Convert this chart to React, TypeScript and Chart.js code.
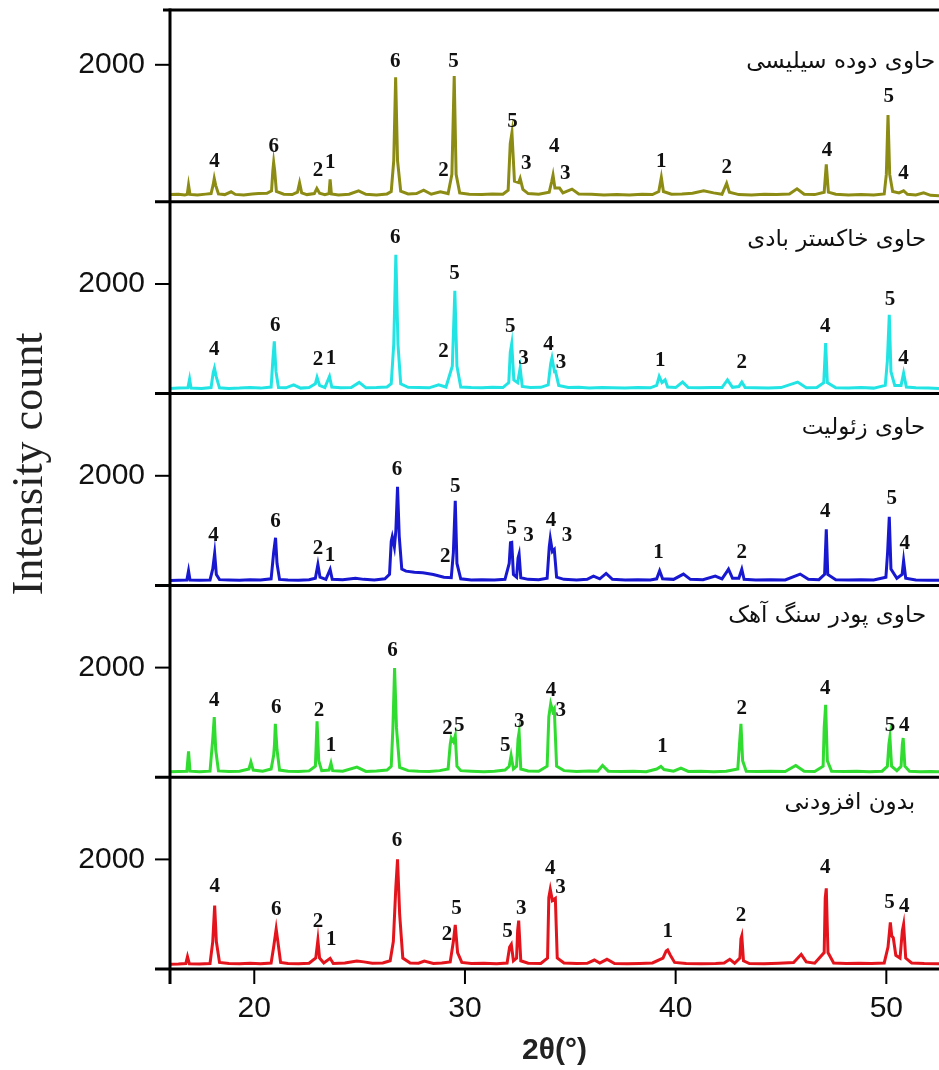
import React, { useEffect, useRef } from 'react';
import { Chart, registerables } from 'chart.js';

Chart.register(...registerables);

type Pt = [number, number];
type Lbl = [number, number, string];

// 2θ axis range and tick labels
const X_MIN = 16;
const X_MAX = 52.5;
const X_LABELED = [20, 30, 40, 50];

// ---------- series (2θ, counts) ----------
const noAdditive: Pt[] = [
  [16.0, 85], [16.4, 90], [16.75, 100], [16.83, 225], [16.92, 95], [17.4, 90], [17.9, 100], [18.03, 500], [18.12, 1156], [18.2, 500],
  [18.35, 120], [18.8, 100], [19.3, 95], [19.8, 105], [20.3, 95], [20.8, 110], [20.92, 400], [21.04, 730], [21.12, 500], [21.25, 120],
  [21.6, 100], [22.1, 95], [22.6, 105], [22.92, 200], [23.02, 529], [23.1, 200], [23.3, 110], [23.6, 195], [23.75, 100], [24.3, 110],
  [24.87, 146], [25.2, 130], [25.6, 105], [26.1, 110], [26.45, 150], [26.6, 500], [26.72, 1500], [26.8, 2002], [26.9, 1000], [27.05, 200],
  [27.4, 110], [27.8, 105], [28.07, 146], [28.5, 100], [28.9, 110], [29.3, 130], [29.45, 500], [29.54, 803], [29.65, 300], [29.85, 120],
  [30.3, 100], [30.9, 105], [31.5, 95], [32.0, 110], [32.12, 400], [32.2, 450], [32.3, 150], [32.45, 200], [32.5, 700], [32.55, 882],
  [32.65, 150], [33.0, 105], [33.6, 100], [33.92, 200], [33.98, 1300], [34.05, 1454], [34.15, 1250], [34.29, 1290], [34.38, 200], [34.7, 110],
  [35.3, 100], [35.8, 105], [36.14, 164], [36.4, 110], [36.74, 177], [37.1, 100], [37.7, 95], [38.3, 100], [38.9, 110], [39.4, 200],
  [39.55, 330], [39.62, 347], [39.75, 250], [39.95, 120], [40.5, 100], [41.2, 95], [41.9, 100], [42.3, 110], [42.57, 177], [42.8, 105],
  [43.05, 200], [43.1, 550], [43.14, 602], [43.22, 150], [43.5, 100], [44.2, 95], [44.9, 105], [45.6, 120], [45.96, 268], [46.2, 130],
  [46.6, 105], [47.05, 300], [47.1, 1300], [47.15, 1472], [47.23, 300], [47.5, 110], [48.1, 100], [48.7, 105], [49.3, 100], [49.9, 110],
  [50.08, 400], [50.19, 852], [50.26, 600], [50.33, 570], [50.45, 250], [50.65, 200], [50.76, 700], [50.82, 816], [50.92, 200], [51.2, 110],
  [51.8, 100], [52.5, 95],
];

const limestone: Pt[] = [
  [16.0, 100], [16.4, 105], [16.8, 110], [16.88, 471], [16.95, 110], [17.4, 100], [17.9, 110], [18.03, 700], [18.1, 1097], [18.17, 500],
  [18.3, 115], [18.8, 105], [19.3, 110], [19.75, 150], [19.84, 276], [19.95, 130], [20.4, 110], [20.8, 150], [20.92, 400], [20.96, 600],
  [21.0, 975], [21.08, 500], [21.2, 130], [21.6, 110], [22.1, 105], [22.6, 115], [22.9, 200], [22.98, 1018], [23.06, 300], [23.2, 120],
  [23.55, 130], [23.64, 257], [23.72, 120], [24.2, 110], [24.87, 184], [25.3, 105], [25.8, 115], [26.3, 130], [26.5, 200], [26.58, 900],
  [26.66, 1991], [26.75, 900], [26.9, 180], [27.3, 120], [27.8, 110], [28.3, 105], [28.8, 120], [29.2, 150], [29.3, 600], [29.35, 714],
  [29.45, 650], [29.54, 762], [29.62, 200], [29.8, 120], [30.3, 110], [30.9, 100], [31.4, 110], [31.9, 130], [32.1, 200], [32.19, 397],
  [32.3, 150], [32.45, 200], [32.52, 700], [32.57, 823], [32.65, 150], [33.0, 115], [33.5, 110], [33.9, 200], [33.98, 1100], [34.07, 1340],
  [34.17, 1200], [34.24, 1248], [34.35, 200], [34.7, 120], [35.3, 105], [35.9, 115], [36.3, 110], [36.53, 215], [36.8, 110], [37.4, 105],
  [38.0, 110], [38.6, 100], [39.1, 150], [39.3, 197], [39.45, 140], [39.9, 110], [40.25, 166], [40.6, 105], [41.2, 110], [41.8, 100],
  [42.4, 110], [42.95, 150], [43.03, 600], [43.1, 975], [43.18, 300], [43.35, 110], [43.9, 105], [44.5, 110], [45.2, 105], [45.7, 215],
  [46.1, 110], [46.6, 105], [47.0, 200], [47.05, 900], [47.12, 1322], [47.2, 300], [47.4, 110], [48.0, 105], [48.6, 110], [49.2, 100],
  [49.8, 110], [50.05, 200], [50.12, 600], [50.17, 732], [50.25, 200], [50.5, 120], [50.7, 200], [50.76, 600], [50.8, 714], [50.88, 200],
  [51.1, 110], [51.6, 100], [52.1, 105], [52.5, 100],
];

const zeolite: Pt[] = [
  [16.0, 90], [16.4, 95], [16.8, 100], [16.88, 267], [16.95, 100], [17.4, 95], [17.9, 100], [18.03, 300], [18.12, 584], [18.2, 200],
  [18.35, 105], [18.8, 100], [19.3, 95], [19.8, 105], [20.3, 100], [20.8, 120], [20.92, 600], [21.01, 869], [21.08, 400], [21.2, 110],
  [21.6, 100], [22.1, 95], [22.6, 105], [22.9, 130], [23.02, 383], [23.12, 150], [23.4, 110], [23.6, 292], [23.7, 110], [24.2, 105],
  [24.8, 130], [25.2, 110], [25.7, 100], [26.2, 120], [26.42, 200], [26.5, 800], [26.55, 887], [26.65, 700], [26.72, 1000], [26.8, 1800],
  [26.88, 900], [27.0, 300], [27.2, 260], [27.6, 240], [28.0, 230], [28.5, 200], [29.0, 150], [29.35, 140], [29.45, 600], [29.54, 1544],
  [29.62, 400], [29.8, 120], [30.3, 100], [30.8, 105], [31.4, 100], [31.9, 110], [32.1, 400], [32.16, 780], [32.22, 785], [32.3, 200],
  [32.45, 150], [32.52, 500], [32.57, 571], [32.65, 140], [33.0, 110], [33.5, 105], [33.9, 130], [34.0, 700], [34.05, 857], [34.15, 620],
  [34.24, 657], [34.35, 150], [34.7, 110], [35.3, 100], [35.8, 110], [36.1, 170], [36.4, 120], [36.7, 219], [37.0, 110], [37.6, 100],
  [38.2, 105], [38.8, 100], [39.1, 120], [39.24, 267], [39.38, 120], [39.9, 110], [40.37, 206], [40.7, 110], [41.3, 105], [41.88, 170],
  [42.2, 120], [42.45, 260], [42.51, 297], [42.7, 130], [43.0, 130], [43.14, 293], [43.25, 110], [43.8, 100], [44.5, 105], [45.2, 100],
  [45.91, 206], [46.3, 110], [46.8, 105], [47.07, 200], [47.15, 1022], [47.22, 200], [47.6, 105], [48.2, 100], [48.8, 105], [49.4, 100],
  [49.98, 150], [50.06, 600], [50.14, 1252], [50.22, 300], [50.5, 130], [50.75, 200], [50.82, 449], [50.92, 130], [51.4, 100], [52.0, 95],
  [52.5, 95],
];

const flyAsh: Pt[] = [
  [16.0, 95], [16.4, 100], [16.85, 105], [16.93, 265], [17.0, 100], [17.5, 95], [17.95, 110], [18.05, 380], [18.11, 465], [18.2, 300],
  [18.35, 105], [18.8, 95], [19.3, 100], [19.8, 110], [20.3, 100], [20.8, 120], [20.88, 600], [20.95, 953], [21.03, 400], [21.15, 110],
  [21.5, 105], [21.87, 161], [22.2, 100], [22.6, 110], [22.9, 180], [22.98, 296], [23.1, 150], [23.35, 110], [23.57, 314], [23.68, 120],
  [24.1, 105], [24.6, 110], [24.98, 204], [25.3, 105], [25.8, 110], [26.3, 120], [26.5, 180], [26.62, 900], [26.72, 2533], [26.82, 900],
  [26.95, 180], [27.3, 115], [27.8, 110], [28.3, 105], [28.75, 160], [29.1, 120], [29.4, 500], [29.52, 1876], [29.62, 500], [29.8, 120],
  [30.3, 110], [30.8, 105], [31.3, 115], [31.8, 110], [32.08, 200], [32.15, 750], [32.22, 909], [32.32, 250], [32.5, 200], [32.62, 465],
  [32.72, 130], [33.1, 110], [33.6, 115], [33.95, 160], [34.07, 550], [34.13, 650], [34.25, 400], [34.3, 405], [34.45, 150], [34.9, 110],
  [35.4, 115], [35.9, 100], [36.5, 110], [37.0, 105], [37.6, 100], [38.2, 110], [38.8, 105], [39.1, 150], [39.22, 314], [39.35, 200],
  [39.5, 250], [39.62, 120], [40.0, 110], [40.33, 210], [40.6, 110], [41.1, 105], [41.7, 110], [42.2, 110], [42.46, 252], [42.7, 115],
  [43.0, 130], [43.14, 210], [43.3, 110], [43.8, 105], [44.4, 100], [45.0, 110], [45.79, 210], [46.2, 105], [46.7, 110], [47.03, 200],
  [47.12, 921], [47.2, 200], [47.6, 105], [48.2, 100], [48.8, 110], [49.4, 100], [49.95, 150], [50.05, 600], [50.14, 1438], [50.22, 400],
  [50.4, 150], [50.7, 150], [50.82, 374], [50.95, 120], [51.4, 105], [52.0, 100], [52.5, 95],
];

const silicaFume: Pt[] = [
  [16.0, 105], [16.4, 110], [16.7, 100], [16.82, 110], [16.88, 244], [16.95, 108], [17.3, 100], [17.7, 112], [17.95, 120], [18.05, 250],
  [18.1, 341], [18.17, 240], [18.3, 115], [18.6, 105], [18.9, 146], [19.1, 108], [19.5, 100], [19.9, 115], [20.2, 120], [20.6, 125],
  [20.82, 160], [20.88, 450], [20.92, 575], [20.97, 450], [21.05, 150], [21.4, 110], [21.8, 105], [22.05, 140], [22.15, 277], [22.25, 130],
  [22.5, 105], [22.85, 120], [22.97, 195], [23.1, 125], [23.35, 105], [23.55, 120], [23.6, 327], [23.66, 115], [24.0, 100], [24.5, 110],
  [24.95, 161], [25.3, 110], [25.8, 100], [26.3, 115], [26.5, 150], [26.62, 600], [26.71, 1816], [26.8, 600], [26.95, 155], [27.3, 115],
  [27.7, 120], [28.04, 171], [28.4, 110], [28.83, 146], [29.2, 120], [29.38, 400], [29.49, 1835], [29.58, 400], [29.75, 130], [30.2, 110],
  [30.8, 105], [31.3, 115], [31.8, 110], [32.05, 170], [32.15, 850], [32.23, 1007], [32.35, 300], [32.55, 280], [32.62, 341], [32.75, 180],
  [33.0, 120], [33.5, 110], [34.0, 140], [34.12, 300], [34.18, 390], [34.27, 200], [34.49, 200], [34.65, 130], [35.08, 185], [35.4, 115],
  [36.0, 110], [36.6, 100], [37.2, 105], [37.8, 100], [38.4, 110], [38.9, 105], [39.2, 150], [39.32, 356], [39.42, 150], [39.8, 110],
  [40.3, 115], [40.8, 125], [41.33, 161], [41.8, 130], [42.2, 110], [42.42, 268], [42.55, 140], [43.0, 105], [43.6, 100], [44.2, 110],
  [44.8, 105], [45.4, 115], [45.76, 190], [46.1, 110], [46.6, 105], [47.05, 140], [47.15, 546], [47.25, 140], [47.6, 110], [48.2, 100],
  [48.8, 105], [49.4, 100], [49.9, 115], [50.0, 400], [50.08, 1266], [50.16, 400], [50.3, 150], [50.6, 130], [50.82, 161], [51.0, 110],
  [51.4, 100], [51.77, 131], [52.1, 95], [52.5, 90],
];

// ---------- peak annotations (2θ, counts, phase number) ----------
const noAdditiveLabels: Lbl[] = [
  [18.12, 1502, '4'], [21.04, 1077, '6'], [23.02, 863, '2'], [23.65, 529, '1'], [26.77, 2336, '6'], [29.15, 633, '2'],
  [29.6, 1108, '5'], [32.02, 681, '5'], [32.67, 1108, '3'], [34.05, 1838, '4'], [34.53, 1491, '3'], [39.62, 681, '1'],
  [43.1, 967, '2'], [47.1, 1856, '4'], [50.15, 1210, '5'], [50.85, 1137, '4'],
];
const limestoneLabels: Lbl[] = [
  [18.1, 1402, '4'], [21.04, 1279, '6'], [23.07, 1219, '2'], [23.64, 568, '1'], [26.56, 2314, '6'], [29.17, 896, '2'],
  [29.73, 933, '5'], [31.91, 568, '5'], [32.58, 1006, '3'], [34.08, 1584, '4'], [34.55, 1219, '3'], [39.38, 562, '1'],
  [43.14, 1261, '2'], [47.1, 1613, '4'], [50.17, 933, '5'], [50.85, 933, '4'],
];
const zeoliteLabels: Lbl[] = [
  [18.07, 918, '4'], [21.01, 1173, '6'], [23.02, 675, '2'], [23.6, 553, '1'], [26.77, 2117, '6'], [29.07, 535, '2'],
  [29.54, 1812, '5'], [32.22, 1040, '5'], [33.02, 905, '3'], [34.08, 1192, '4'], [34.84, 905, '3'], [39.19, 602, '1'],
  [43.14, 602, '2'], [47.1, 1343, '4'], [50.26, 1588, '5'], [50.87, 767, '4'],
];
const flyAshLabels: Lbl[] = [
  [18.1, 799, '4'], [21.0, 1237, '6'], [23.03, 617, '2'], [23.64, 635, '1'], [26.69, 2838, '6'], [28.98, 770, '2'],
  [29.5, 2199, '5'], [32.15, 1226, '5'], [32.78, 648, '3'], [33.97, 891, '4'], [34.56, 557, '3'], [39.27, 599, '1'],
  [43.14, 557, '2'], [47.1, 1226, '4'], [50.17, 1712, '5'], [50.82, 648, '4'],
];
const silicaFumeLabels: Lbl[] = [
  [18.11, 584, '4'], [20.92, 803, '6'], [23.02, 463, '2'], [23.61, 569, '1'], [26.69, 2054, '6'], [28.98, 453, '2'],
  [29.46, 2054, '5'], [32.26, 1168, '5'], [32.91, 560, '3'], [34.24, 803, '4'], [34.76, 415, '3'], [39.32, 584, '1'],
  [42.43, 496, '2'], [47.18, 755, '4'], [50.11, 1543, '5'], [50.82, 415, '4'],
];

// ---------- panel names (bottom → top) and their anchors ----------
const panelNames = ['بدون افزودنی', 'حاوی پودر سنگ آهک', 'حاوی زئولیت', 'حاوی خاکستر بادی', 'حاوی دوده سیلیسی'];
const panelNameX = [51.37, 51.89, 51.85, 51.89, 52.32];
const panelNameY = [3030, 2940, 2871, 2801, 2040];
const panelYMax = [3500, 3500, 3500, 3500, 2800];
const panelYStep = [500, 500, 500, 500, 400];
const LABELED_Y = 2000;

const panelSeries = [noAdditive, limestone, zeolite, flyAsh, silicaFume];
const panelLabels = [noAdditiveLabels, limestoneLabels, zeoliteLabels, flyAshLabels, silicaFumeLabels];
const panelColors = ['#e4141c', '#30dc30', '#1818d0', '#22e4e4', '#8c8c14'];
const panelIds = ['yNone', 'yLime', 'yZeo', 'yFly', 'ySilica'];

const SANS = '"Liberation Sans", Arial, sans-serif';
const SERIF = '"Liberation Serif", "Times New Roman", serif';

const decorPlugin = {
  id: 'xrdDecor',
  afterDatasetsDraw(chart: any) {
    const ctx: CanvasRenderingContext2D = chart.ctx;
    const ca = chart.chartArea;
    const xs = chart.scales.x;
    const line = (x1: number, y1: number, x2: number, y2: number) => {
      ctx.beginPath();
      ctx.moveTo(x1, y1);
      ctx.lineTo(x2, y2);
      ctx.stroke();
    };
    ctx.save();
    ctx.strokeStyle = '#000';
    ctx.lineCap = 'butt';

    // y tick marks
    ctx.lineWidth = 2;
    panelIds.forEach((id) => {
      const s = chart.scales[id];
      s.ticks.forEach((t: any) => {
        if (t.value <= s.min || t.value >= s.max) return;
        const py = s.getPixelForValue(t.value);
        const len = t.value === LABELED_Y ? 15 : 7;
        line(ca.left - len, py, ca.left, py);
      });
    });

    // x tick marks
    xs.ticks.forEach((t: any) => {
      if (!Number.isInteger(t.value)) return;
      const px = xs.getPixelForValue(t.value);
      const len = t.value % 10 === 0 ? 15 : 7;
      line(px, ca.bottom, px, ca.bottom + len);
    });

    // frame: panel separators, top line, left axis
    ctx.lineWidth = 3;
    panelIds.forEach((id) => {
      const s = chart.scales[id];
      const yb = s.getPixelForValue(s.min);
      line(ca.left - 15, yb, ca.right, yb);
    });
    line(ca.left - 7, ca.top, ca.right, ca.top);
    line(ca.left, ca.top - 1.5, ca.left, ca.bottom + 15);

    // peak numbers
    ctx.fillStyle = '#111';
    ctx.font = `bold 21px ${SERIF}`;
    ctx.textAlign = 'center';
    ctx.textBaseline = 'middle';
    panelIds.forEach((id, i) => {
      const s = chart.scales[id];
      panelLabels[i].forEach(([lx, ly, txt]) => {
        ctx.fillText(txt, xs.getPixelForValue(lx), s.getPixelForValue(ly));
      });
    });

    // panel names (Persian)
    ctx.font = '23px "DejaVu Sans", "Noto Sans", sans-serif';
    ctx.textAlign = 'right';
    ctx.textBaseline = 'middle';
    (ctx as any).direction = 'rtl';
    panelIds.forEach((id, i) => {
      const s = chart.scales[id];
      ctx.fillText(panelNames[i], xs.getPixelForValue(panelNameX[i]), s.getPixelForValue(panelNameY[i]));
    });
    (ctx as any).direction = 'ltr';

    // axis titles
    ctx.fillStyle = '#222';
    ctx.save();
    ctx.translate(42, 464);
    ctx.rotate(-Math.PI / 2);
    ctx.font = `44px ${SERIF}`;
    ctx.textAlign = 'center';
    ctx.textBaseline = 'alphabetic';
    ctx.fillText('Intensity count', 0, 0);
    ctx.restore();

    ctx.font = `bold 30px ${SANS}`;
    ctx.textAlign = 'center';
    ctx.textBaseline = 'middle';
    ctx.fillText('2θ(°)', (ca.left + ca.right) / 2, 1051);

    ctx.restore();
  },
};

export default function App() {
  const ref = useRef<HTMLCanvasElement>(null);

  useEffect(() => {
    const canvas = ref.current;
    if (!canvas) return;

    const zeroPad = (s: any) => {
      s.paddingTop = 0;
      s.paddingBottom = 0;
      s.paddingLeft = 0;
      s.paddingRight = 0;
    };

    const scales: any = {
      x: {
        type: 'linear',
        position: 'bottom',
        min: X_MIN,
        max: X_MAX,
        ticks: {
          stepSize: 1,
          autoSkip: false,
          maxRotation: 0,
          padding: 22,
          color: '#111',
          font: { family: SANS, size: 30 },
          callback: (v: number) => (X_LABELED.includes(v) ? String(v) : null),
        },
        grid: { display: false, drawTicks: false },
        border: { display: false },
        afterFit: (s: any) => {
          s.height = 101;
          zeroPad(s);
        },
      },
    };
    panelIds.forEach((id, i) => {
      scales[id] = {
        type: 'linear',
        position: 'left',
        stack: 'xrd',
        stackWeight: 1,
        min: 0,
        max: panelYMax[i],
        ticks: {
          stepSize: panelYStep[i],
          autoSkip: false,
          padding: 25,
          color: '#111',
          font: { family: SANS, size: 30 },
          callback: (v: number) => (v === LABELED_Y ? String(v) : null),
        },
        grid: { display: false, drawTicks: false },
        border: { display: false },
        afterFit: (s: any) => {
          s.width = 170;
          zeroPad(s);
        },
      };
    });

    const chart = new Chart(canvas, {
      type: 'line',
      data: {
        datasets: panelIds.map((id, i) => ({
          label: panelNames[i],
          data: panelSeries[i] as any,
          yAxisID: id,
          xAxisID: 'x',
          borderColor: panelColors[i],
          borderWidth: 3,
          pointRadius: 0,
          tension: 0,
          fill: false,
        })),
      },
      options: {
        responsive: false,
        maintainAspectRatio: false,
        animation: false,
        events: [],
        layout: { padding: { top: 10, right: 0, bottom: 0, left: 0 } },
        plugins: { legend: { display: false }, tooltip: { enabled: false }, title: { display: false } },
        scales,
      },
      plugins: [decorPlugin],
    });

    return () => chart.destroy();
  }, []);

  return (
    <div style={{ position: 'fixed', left: 0, top: 0, width: 939, height: 1070, background: '#fff' }}>
      <canvas ref={ref} width={939} height={1070} style={{ width: 939, height: 1070, display: 'block' }} />
    </div>
  );
}
